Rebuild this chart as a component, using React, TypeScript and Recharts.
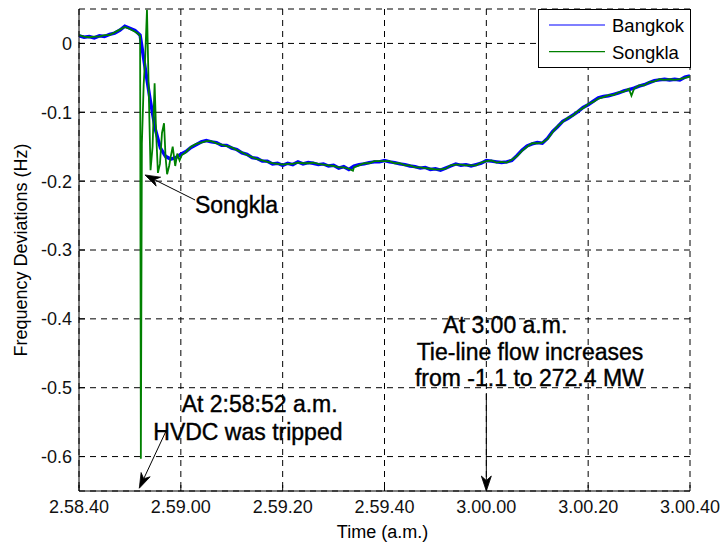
import React from 'react';
import {
  LineChart,
  Line,
  XAxis,
  YAxis,
  CartesianGrid,
  Legend,
  ReferenceLine,
  ReferenceDot,
} from 'recharts';

// Time axis: seconds after 2:58:40 a.m.
const TIME_TICKS = [0, 20, 40, 60, 80, 100, 120];
const TIME_LABELS = ['2.58.40', '2.59.00', '2.59.20', '2.59.40', '3.00.00', '3.00.20', '3.00.40'];

const HZ_TICKS = [0, -0.1, -0.2, -0.3, -0.4, -0.5, -0.6];
const HZ_LABELS = ['0', '-0.1', '-0.2', '-0.3', '-0.4', '-0.5', '-0.6'];

// Bangkok frequency deviation (Hz), one sample per second from 2:58:40
const BANGKOK_HZ = [
  0.011, 0.009, 0.010, 0.008, 0.011, 0.010, 0.013, 0.015, 0.019, 0.025,
  0.022, 0.019, 0.012, -0.036, -0.083, -0.125, -0.152, -0.164, -0.168, -0.166,
  -0.161, -0.157, -0.151, -0.147, -0.143, -0.141, -0.143, -0.144, -0.148, -0.148,
  -0.152, -0.154, -0.159, -0.161, -0.166, -0.167, -0.171, -0.171, -0.175, -0.174,
  -0.177, -0.174, -0.176, -0.172, -0.175, -0.173, -0.174, -0.176, -0.175, -0.178,
  -0.177, -0.181, -0.179, -0.183, -0.178, -0.176, -0.175, -0.173, -0.172, -0.172,
  -0.170, -0.172, -0.173, -0.175, -0.176, -0.178, -0.179, -0.181, -0.180, -0.183,
  -0.182, -0.184, -0.181, -0.178, -0.175, -0.177, -0.176, -0.178, -0.176, -0.174,
  -0.170, -0.171, -0.172, -0.173, -0.172, -0.170, -0.163, -0.155, -0.149, -0.146,
  -0.144, -0.145, -0.138, -0.128, -0.121, -0.113, -0.109, -0.104, -0.099, -0.093,
  -0.089, -0.084, -0.079, -0.077, -0.076, -0.074, -0.072, -0.069, -0.067, -0.065,
  -0.062, -0.060, -0.057, -0.054, -0.053, -0.052, -0.053, -0.052, -0.053, -0.049,
  -0.047,
];

// Songkla frequency deviation (Hz), one sample per second; the trip burst is listed separately
const SONGKLA_HZ: (number | null)[] = [
  0.012, 0.010, 0.009, 0.010, 0.010, 0.012, 0.012, 0.016, 0.020, 0.024,
  0.021, 0.017, null, null, null, null, null, null, null, null,
  null, -0.158, -0.150, -0.146, -0.144, -0.142, -0.142, -0.145, -0.147, -0.149,
  -0.151, -0.155, -0.158, -0.162, -0.165, -0.168, -0.170, -0.172, -0.174, -0.175,
  -0.176, -0.175, -0.175, -0.173, -0.174, -0.174, -0.173, -0.175, -0.176, -0.177,
  -0.178, -0.180, -0.180, -0.182, -0.180, -0.177, -0.174, -0.174, -0.171, -0.171,
  -0.171, -0.171, -0.174, -0.174, -0.177, -0.177, -0.180, -0.180, -0.181, -0.182,
  -0.183, -0.183, -0.182, -0.177, -0.176, -0.176, -0.177, -0.177, -0.177, -0.173,
  -0.171, -0.170, -0.173, -0.172, -0.173, -0.169, -0.164, -0.156, -0.150, -0.145,
  -0.145, -0.144, -0.139, -0.129, -0.120, -0.114, -0.108, -0.105, -0.098, -0.094,
  -0.088, -0.085, -0.080, -0.078, -0.075, -0.075, -0.071, -0.070, -0.066, -0.066,
  -0.061, -0.061, -0.056, -0.055, -0.052, -0.053, -0.052, -0.053, -0.052, -0.050,
  -0.048,
];

// Songkla oscillation after the HVDC trip, plus two short dips
const SONGKLA_EXTRA_T = [
  11.6, 12.0, 12.15, 12.35, 12.7, 13.0, 13.35, 13.7, 14.05, 14.45,
  14.85, 15.15, 15.5, 15.9, 16.3, 16.7, 17.0, 17.3, 17.7, 18.0,
  18.4, 18.9, 19.3, 19.75, 20.2, 53.8, 108.5,
];
const SONGKLA_EXTRA_HZ = [
  0.014, 0.011, -0.603, -0.145, -0.06, -0.02, 0.049, -0.07, -0.184, -0.15,
  -0.058, -0.13, -0.188, -0.175, -0.13, -0.116, -0.165, -0.19, -0.178, -0.165,
  -0.15, -0.178, -0.16, -0.17, -0.162, -0.185, -0.076,
];

const SERIES_NAMES = ['Bangkok', 'Songkla'];
const SERIES_COLORS = ['#0000ff', '#008000'];

const bangkok = BANGKOK_HZ.map((v, i) => ({ t: i, v }));
const songkla = [
  ...SONGKLA_HZ.map((v, i) => ({ t: i, v })).filter((p) => p.v !== null),
  ...SONGKLA_EXTRA_T.map((t, i) => ({ t, v: SONGKLA_EXTRA_HZ[i] })),
].sort((a, b) => a.t - b.t);

const FONT = '"Liberation Sans", Arial, Helvetica, sans-serif';
const INK = '#000';

// Annotation text lines: anchor at left end of baseline, in (seconds, Hz)
const NOTES = [
  { text: 'Songkla', t: 22.78, hz: -0.2467 },
  { text: 'At 2:58:52 a.m.', t: 20.17, hz: -0.5348 },
  { text: 'HVDC was tripped', t: 14.59, hz: -0.5759 },
  { text: 'At 3:00 a.m.', t: 71.55, hz: -0.421 },
  { text: 'Tie-line flow increases', t: 66.32, hz: -0.4597 },
  { text: 'from -1.1 to 272.4 MW', t: 65.99, hz: -0.4975 },
];

// Arrows: tail -> head, in (seconds, Hz)
const ARROWS = [
  { from: { x: 22.8, y: -0.2274 }, to: { x: 12.96, y: -0.191 } },
  { from: { x: 17.03, y: -0.5639 }, to: { x: 11.84, y: -0.646 } },
  { from: { x: 80, y: -0.5077 }, to: { x: 80, y: -0.65 } },
];

const arrowShape = (p: any) => {
  const { x1, y1, x2, y2 } = p;
  if ([x1, y1, x2, y2].some((n) => typeof n !== 'number' || Number.isNaN(n))) return <g />;
  const dx = x2 - x1;
  const dy = y2 - y1;
  const len = Math.hypot(dx, dy) || 1;
  const ux = dx / len;
  const uy = dy / len;
  const L = 15;
  const W = 5;
  const bx = x2 - ux * L;
  const by = y2 - uy * L;
  const nx = x2 - ux * L * 0.7;
  const ny = y2 - uy * L * 0.7;
  const pts = `${x2},${y2} ${bx - uy * W},${by + ux * W} ${nx},${ny} ${bx + uy * W},${by - ux * W}`;
  return (
    <g>
      <line x1={x1} y1={y1} x2={nx} y2={ny} stroke={INK} strokeWidth={1} />
      <polygon points={pts} fill={INK} stroke={INK} strokeWidth={0.8} />
    </g>
  );
};

const noteShape = (text: string) => (p: any) => (
  <text x={p.cx} y={p.cy} fontFamily={FONT} fontSize={23} fill={INK} stroke={INK} strokeWidth={0.4}>
    {text}
  </text>
);

const legendContent = (props: any) => {
  const items = props.payload ?? [];
  return (
    <div
      style={{
        width: 153,
        height: 59,
        border: `1px solid ${INK}`,
        background: '#fff',
        boxSizing: 'border-box',
      }}
    >
      <svg width={151} height={57} style={{ display: 'block' }}>
        {items.map((it: any, i: number) => (
          <g key={it.value}>
            <line x1={10} x2={66} y1={15 + i * 26.7} y2={15 + i * 26.7} stroke={it.color} strokeWidth={1.2} />
            <text x={73} y={22 + i * 26.7} fontFamily={FONT} fontSize={18.5} fill={INK}>
              {it.value}
            </text>
          </g>
        ))}
      </svg>
    </div>
  );
};

const yTitle = (p: any) => {
  const vb = p.viewBox;
  const cx = vb.x + 27;
  const cy = vb.y + vb.height / 2;
  return (
    <text x={cx} y={cy} transform={`rotate(-90 ${cx} ${cy})`} textAnchor="middle" fontFamily={FONT} fontSize={18} fill={INK}>
      Frequency Deviations (Hz)
    </text>
  );
};

const xTitle = (p: any) => {
  const vb = p.viewBox;
  return (
    <text x={vb.x + vb.width / 2 - 2} y={vb.y + 47} textAnchor="middle" fontFamily={FONT} fontSize={18} fill={INK}>
      Time (a.m.)
    </text>
  );
};

const tickStyle = { fontSize: 18, fill: '#111', fontFamily: FONT };

export default function App() {
  return (
    <div style={{ position: 'absolute', left: 0, top: 0, background: '#fff' }}>
      <LineChart width={722} height={545} margin={{ top: 9, right: 32, bottom: 0, left: 0 }}>
        <CartesianGrid stroke={INK} strokeDasharray="6 5" strokeWidth={1} />
        <XAxis
          dataKey="t"
          type="number"
          domain={[0, 120]}
          ticks={TIME_TICKS}
          interval={0}
          allowDataOverflow
          height={54}
          tickSize={-6}
          tickMargin={15}
          tick={tickStyle}
          tickFormatter={(v: number) => TIME_LABELS[TIME_TICKS.indexOf(v)] ?? ''}
          axisLine={{ stroke: INK }}
          tickLine={{ stroke: INK }}
          label={{ content: xTitle }}
        />
        <XAxis
          xAxisId="top"
          orientation="top"
          type="number"
          domain={[0, 120]}
          ticks={TIME_TICKS}
          allowDataOverflow
          height={0}
          tickSize={-6}
          tick={false}
          axisLine={{ stroke: INK }}
          tickLine={{ stroke: INK }}
        />
        <YAxis
          type="number"
          domain={[-0.65, 0.05]}
          ticks={HZ_TICKS}
          interval={0}
          allowDataOverflow
          width={79}
          tickSize={-6}
          tickMargin={13}
          tick={tickStyle}
          tickFormatter={(v: number) => HZ_LABELS[HZ_TICKS.indexOf(v)] ?? ''}
          axisLine={{ stroke: INK }}
          tickLine={{ stroke: INK }}
          label={{ content: yTitle }}
        />
        <YAxis
          yAxisId="right"
          orientation="right"
          type="number"
          domain={[-0.65, 0.05]}
          ticks={HZ_TICKS}
          allowDataOverflow
          width={0}
          tickSize={-6}
          tick={false}
          axisLine={{ stroke: INK }}
          tickLine={{ stroke: INK }}
        />
        <Line
          data={bangkok}
          dataKey="v"
          name={SERIES_NAMES[0]}
          type="linear"
          stroke={SERIES_COLORS[0]}
          strokeWidth={3.4}
          dot={false}
          isAnimationActive={false}
        />
        <Line
          data={songkla}
          dataKey="v"
          name={SERIES_NAMES[1]}
          type="linear"
          stroke={SERIES_COLORS[1]}
          strokeWidth={1.8}
          dot={false}
          isAnimationActive={false}
        />
        {ARROWS.map((a, i) => (
          <ReferenceLine key={`arrow-${i}`} segment={[a.from, a.to]} ifOverflow="visible" shape={arrowShape} />
        ))}
        {NOTES.map((n) => (
          <ReferenceDot key={n.text} x={n.t} y={n.hz} r={0} ifOverflow="visible" shape={noteShape(n.text)} />
        ))}
        <Legend
          layout="vertical"
          align="center"
          verticalAlign="middle"
          content={legendContent}
          wrapperStyle={{ left: 538, top: 9, width: 153, height: 59 }}
        />
      </LineChart>
    </div>
  );
}
